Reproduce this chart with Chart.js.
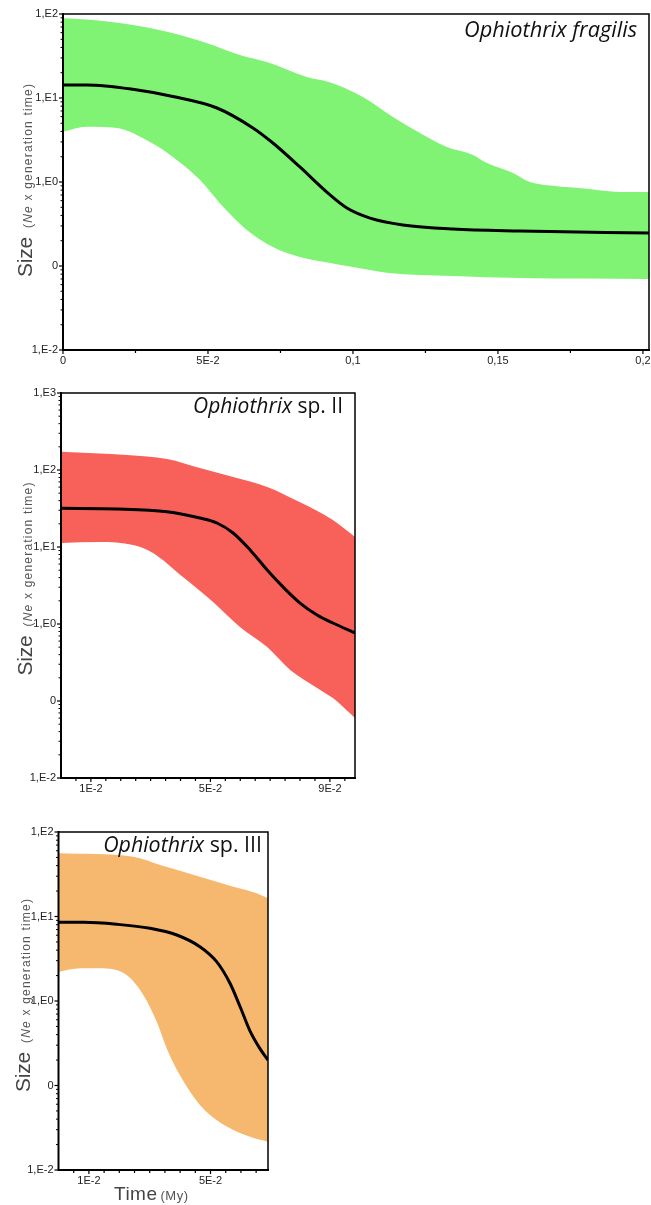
<!DOCTYPE html>
<html><head><meta charset="utf-8">
<script src="https://cdn.jsdelivr.net/npm/chart.js@4.4.0/dist/chart.umd.min.js"></script>
<style>
html,body{margin:0;padding:0;background:#fff;width:651px;height:1205px;overflow:hidden;}
.box{position:absolute;}
canvas{display:block;}
</style></head><body>
<div class="box" style="left:0;top:0;"><canvas id="c1"></canvas></div>
<div class="box" style="left:0;top:380px;"><canvas id="c2"></canvas></div>
<div class="box" style="left:0;top:815px;"><canvas id="c3"></canvas></div>
<script>
// ---------- Ophiothrix fragilis ----------
const fragUpperX = [0, 0.0082, 0.0241, 0.0359, 0.0497, 0.061, 0.0703, 0.0841, 0.0917, 0.1034, 0.1138, 0.1231, 0.1324, 0.1414, 0.1462, 0.1552, 0.161, 0.169, 0.1807, 0.192, 0.2021];
const fragUpperY = [89, 86, 74, 61.5, 45, 32.5, 26.8, 17.8, 15.5, 10.3, 5.94, 3.83, 2.61, 2.1, 1.68, 1.28, 1.0, 0.90, 0.83, 0.76, 0.76];
const fragLowerX = [0, 0.0082, 0.0186, 0.03, 0.0379, 0.0472, 0.0541, 0.0586, 0.0634, 0.0724, 0.0817, 0.0917, 0.1, 0.1117, 0.1345, 0.1576, 0.2021];
const fragLowerY = [3.97, 4.55, 4.4, 2.99, 1.99, 1.06, 0.56, 0.383, 0.268, 0.168, 0.128, 0.109, 0.097, 0.083, 0.076, 0.072, 0.070];
const fragMedX = [0, 0.0082, 0.0241, 0.0379, 0.0531, 0.0655, 0.0724, 0.0817, 0.0917, 0.0979, 0.1059, 0.1172, 0.1345, 0.1576, 0.2021];
const fragMedY = [14.3, 14.3, 12.7, 10.4, 7.6, 4.4, 2.91, 1.51, 0.72, 0.49, 0.372, 0.308, 0.275, 0.261, 0.247];
const fragXTicks = [0, 0.05, 0.1, 0.15, 0.2];
const fragXLabels = ["0", "5E-2", "0,1", "0,15", "0,2"];
const fragXMinor = [0.025, 0.075, 0.125, 0.175];
const fragYTicks = [0.01, 0.1, 1, 10, 100];
const fragYLabels = ["1,E-2", "0", "1,E0", "1,E1", "1,E2"];

// ---------- Ophiothrix sp. II ----------
const sp2UpperX = [0, 0.0221, 0.0355, 0.0465, 0.0576, 0.069, 0.08, 0.091, 0.0984];
const sp2UpperY = [173, 157, 139, 106, 81, 60, 38, 22.4, 13.5];
const sp2LowerX = [0, 0.013, 0.0241, 0.0308, 0.0408, 0.0509, 0.0599, 0.069, 0.0767, 0.0857, 0.091, 0.0984];
const sp2LowerY = [11.3, 11.6, 10.6, 8.36, 4.07, 1.93, 0.914, 0.502, 0.253, 0.148, 0.109, 0.060];
const sp2MedX = [0, 0.0187, 0.0355, 0.0465, 0.0522, 0.0576, 0.0633, 0.069, 0.0743, 0.08, 0.0857, 0.091, 0.0984];
const sp2MedY = [31.8, 31.2, 28.7, 23.8, 20.5, 15.2, 9.15, 5.03, 3.03, 1.87, 1.31, 1.03, 0.764];
const sp2XTicks = [0.01, 0.05, 0.09];
const sp2XLabels = ["1E-2", "5E-2", "9E-2"];
const sp2XMinor = [0.005, 0.015, 0.02, 0.025, 0.03, 0.035, 0.04, 0.045, 0.055, 0.06, 0.065, 0.07, 0.075, 0.08, 0.085, 0.095];
const sp2YTicks = [0.01, 0.1, 1, 10, 100, 1000];
const sp2YLabels = ["1,E-2", "0", "1,E0", "1,E1", "1,E2", "1,E3"];

// ---------- Ophiothrix sp. III ----------
const sp3UpperX = [0, 0.0246, 0.0334, 0.0465, 0.0575, 0.0652, 0.0689];
const sp3UpperY = [56, 51, 40.6, 29.6, 22.5, 18.8, 16.4];
const sp3LowerX = [0, 0.0071, 0.0136, 0.0224, 0.0279, 0.0323, 0.0356, 0.0399, 0.0465, 0.052, 0.0575, 0.063, 0.0689];
const sp3LowerY = [2.22, 2.44, 2.44, 2.03, 1.18, 0.569, 0.275, 0.133, 0.0588, 0.039, 0.0297, 0.0248, 0.0216];
const sp3MedX = [0, 0.0082, 0.0191, 0.0301, 0.0389, 0.0465, 0.052, 0.0564, 0.0597, 0.063, 0.0662, 0.0689];
const sp3MedY = [8.53, 8.53, 8.09, 7.25, 6.04, 4.39, 2.92, 1.62, 0.86, 0.44, 0.275, 0.2];
const sp3XTicks = [0.01, 0.05];
const sp3XLabels = ["1E-2", "5E-2"];
const sp3XMinor = [0.005, 0.015, 0.02, 0.025, 0.03, 0.035, 0.04, 0.045, 0.055, 0.06, 0.065];
const sp3YTicks = [0.01, 0.1, 1, 10, 100];
const sp3YLabels = ["1,E-2", "0", "1,E0", "1,E1", "1,E2"];

function pts(xs, ys) { return xs.map((x, i) => ({x: x, y: ys[i]})); }

const TICK_FONT = {family: "'Liberation Sans', Arial, sans-serif", size: 11};

const framePlugin = {
  id: 'frame',
  afterDatasetsDraw(chart, args, o) {
    const ctx = chart.ctx;
    const {left, top, right, bottom} = chart.chartArea;
    const xs = chart.scales.x, ys = chart.scales.y;
    ctx.save();
    ctx.strokeStyle = '#000';
    ctx.lineWidth = 1.5;
    ctx.beginPath(); ctx.moveTo(left, top); ctx.lineTo(right, top); ctx.lineTo(right, bottom); ctx.stroke();
    ctx.lineWidth = 2;
    ctx.beginPath(); ctx.moveTo(left, top - 1); ctx.lineTo(left, bottom); ctx.lineTo(right + 1, bottom); ctx.stroke();
    // x ticks
    ctx.lineWidth = 1.2;
    o.xMajor.forEach(v => { const p = xs.getPixelForValue(v); ctx.beginPath(); ctx.moveTo(p, bottom); ctx.lineTo(p, bottom + 4); ctx.stroke(); });
    o.xMinor.forEach(v => { const p = xs.getPixelForValue(v); ctx.beginPath(); ctx.moveTo(p, bottom); ctx.lineTo(p, bottom + 3); ctx.stroke(); });
    // y ticks
    o.yMajor.forEach(v => { const p = ys.getPixelForValue(v); ctx.beginPath(); ctx.moveTo(left, p); ctx.lineTo(left - 4, p); ctx.stroke(); });
    ctx.lineWidth = 1;
    for (let i = 0; i < o.yMajor.length - 1; i++) {
      for (let k = 2; k <= 9; k++) {
        const p = ys.getPixelForValue(o.yMajor[i] * k);
        ctx.beginPath(); ctx.moveTo(left, p); ctx.lineTo(left - 2.5, p); ctx.stroke();
      }
    }
    // panel title
    ctx.fillStyle = '#111';
    ctx.textBaseline = 'alphabetic';
    const tf = (it, s) => (it ? 'italic ' : '') + s + "px 'Open Sans', 'Liberation Sans', sans-serif";
    let w0 = 0;
    o.title.forEach(p => { ctx.font = tf(p.i, 20); w0 += ctx.measureText(p.t).width; });
    const ts = 20 * o.titleW / w0;
    let tw = 0;
    o.title.forEach(p => { ctx.font = tf(p.i, ts); tw += ctx.measureText(p.t).width; });
    let tx = o.titleRight - tw;
    o.title.forEach(p => { ctx.font = tf(p.i, ts); ctx.fillText(p.t, tx, o.titleBase); tx += ctx.measureText(p.t).width; });
    // y axis title (rotated)
    const yparts = [
      {t: 'Size', f: "21px 'Liberation Sans', Arial, sans-serif", c: '#444', ls: '-0.2px'},
      {t: '  (', f: "12px 'Liberation Sans', Arial, sans-serif", c: '#555', ls: '1.2px'},
      {t: 'Ne', f: "italic 12px 'Liberation Sans', Arial, sans-serif", c: '#555', ls: '1.2px'},
      {t: ' x generation time)', f: "12px 'Liberation Sans', Arial, sans-serif", c: '#555', ls: '1.2px'}
    ];
    let W = 0;
    yparts.forEach(p => { ctx.font = p.f; ctx.letterSpacing = p.ls; W += ctx.measureText(p.t).width; });
    ctx.translate(o.yTitleX, (top + bottom) / 2 + o.yTitleShift);
    ctx.rotate(-Math.PI / 2);
    let u = -W / 2;
    yparts.forEach(p => { ctx.font = p.f; ctx.letterSpacing = p.ls; ctx.fillStyle = p.c; ctx.fillText(p.t, u, 0); u += ctx.measureText(p.t).width; });
    ctx.setTransform(chart.currentDevicePixelRatio, 0, 0, chart.currentDevicePixelRatio, 0, 0);
    ctx.letterSpacing = '0px';
    if (o.xTitle) {
      ctx.fillStyle = '#444';
      ctx.font = "19px 'Liberation Sans', Arial, sans-serif";
      ctx.letterSpacing = '0.5px';
      ctx.fillText('Time', o.xTitle.x, o.xTitle.y);
      const w1 = ctx.measureText('Time').width;
      ctx.font = "13px 'Liberation Sans', Arial, sans-serif";
      ctx.fillStyle = '#555';
      ctx.fillText('(My)', o.xTitle.x + w1 + 3, o.xTitle.y);
      ctx.letterSpacing = '0px';
    }
    ctx.restore();
  }
};

function makeChart(id, g, S) {
  const cv = document.getElementById(id);
  cv.style.width = g.w + 'px'; cv.style.height = g.h + 'px';
  cv.width = g.w; cv.height = g.h;
  const line = {pointRadius: 0, cubicInterpolationMode: 'monotone'};
  return new Chart(cv, {
    type: 'line',
    data: {datasets: [
      Object.assign({data: pts(S.upX, S.upY), borderWidth: 0, borderColor: 'rgba(0,0,0,0)', fill: false, order: 1}, line),
      Object.assign({data: pts(S.loX, S.loY), borderWidth: 0, borderColor: 'rgba(0,0,0,0)', backgroundColor: S.color, fill: '-1', order: 1}, line),
      Object.assign({data: pts(S.mdX, S.mdY), borderWidth: 3, borderColor: '#000', fill: false, order: 0}, line)
    ]},
    options: {
      responsive: false, animation: false, events: [],
      layout: {padding: {top: g.T, right: g.w - g.R, left: 0, bottom: 0}},
      plugins: {
        legend: {display: false}, tooltip: {enabled: false},
        frame: {xMajor: S.xT, xMinor: S.xM, yMajor: S.yT, title: S.title, titleRight: g.titleRight,
                titleBase: g.titleBase, titleW: g.titleW, yTitleX: g.yTitleX, yTitleShift: g.yTitleShift, xTitle: g.xTitle}
      },
      scales: {
        x: {
          type: 'linear', min: 0, max: S.xMax,
          grid: {display: false, drawTicks: false}, border: {display: false},
          afterBuildTicks: s => { s.ticks = S.xT.map(v => ({value: v})); },
          afterFit: s => { s.height = g.h - g.B; s.paddingLeft = 0; s.paddingRight = 0; },
          ticks: {autoSkip: false, maxRotation: 0, minRotation: 0, padding: 4, font: TICK_FONT, color: '#222',
                  callback: (v, i) => S.xL[i]}
        },
        y: {
          type: 'logarithmic', min: S.yT[0], max: S.yT[S.yT.length - 1],
          grid: {display: false, drawTicks: false}, border: {display: false},
          afterBuildTicks: s => { s.ticks = S.yT.map(v => ({value: v})); },
          afterFit: s => { s.width = g.L; s.paddingTop = 0; s.paddingBottom = 0; },
          ticks: {autoSkip: false, padding: 5, font: TICK_FONT, color: '#222',
                  callback: (v, i) => S.yL[i]}
        }
      }
    },
    plugins: [framePlugin]
  });
}

makeChart('c1',
  {w: 651, h: 375, L: 63, T: 14, R: 649, B: 350, titleRight: 637, titleBase: 37, titleW: 173, yTitleX: 32, yTitleShift: -2},
  {upX: fragUpperX, upY: fragUpperY, loX: fragLowerX, loY: fragLowerY, mdX: fragMedX, mdY: fragMedY,
   color: '#80f374', xMax: 0.2021, xT: fragXTicks, xL: fragXLabels, xM: fragXMinor, yT: fragYTicks, yL: fragYLabels,
   title: [{t: 'Ophiothrix fragilis', i: true}]});

makeChart('c2',
  {w: 380, h: 420, L: 61, T: 13, R: 355, B: 398, titleRight: 343, titleBase: 33, titleW: 150, yTitleX: 32, yTitleShift: -7},
  {upX: sp2UpperX, upY: sp2UpperY, loX: sp2LowerX, loY: sp2LowerY, mdX: sp2MedX, mdY: sp2MedY,
   color: '#f8605a', xMax: 0.0984, xT: sp2XTicks, xL: sp2XLabels, xM: sp2XMinor, yT: sp2YTicks, yL: sp2YLabels,
   title: [{t: 'Ophiothrix', i: true}, {t: ' sp. II', i: false}]});

makeChart('c3',
  {w: 290, h: 390, L: 58.5, T: 17, R: 268, B: 355, titleRight: 262, titleBase: 37, titleW: 159, yTitleX: 30, yTitleShift: -6,
   xTitle: {x: 114, y: 385}},
  {upX: sp3UpperX, upY: sp3UpperY, loX: sp3LowerX, loY: sp3LowerY, mdX: sp3MedX, mdY: sp3MedY,
   color: '#f6b86e', xMax: 0.0689, xT: sp3XTicks, xL: sp3XLabels, xM: sp3XMinor, yT: sp3YTicks, yL: sp3YLabels,
   title: [{t: 'Ophiothrix', i: true}, {t: ' sp. III', i: false}]});
</script>
</body></html>
